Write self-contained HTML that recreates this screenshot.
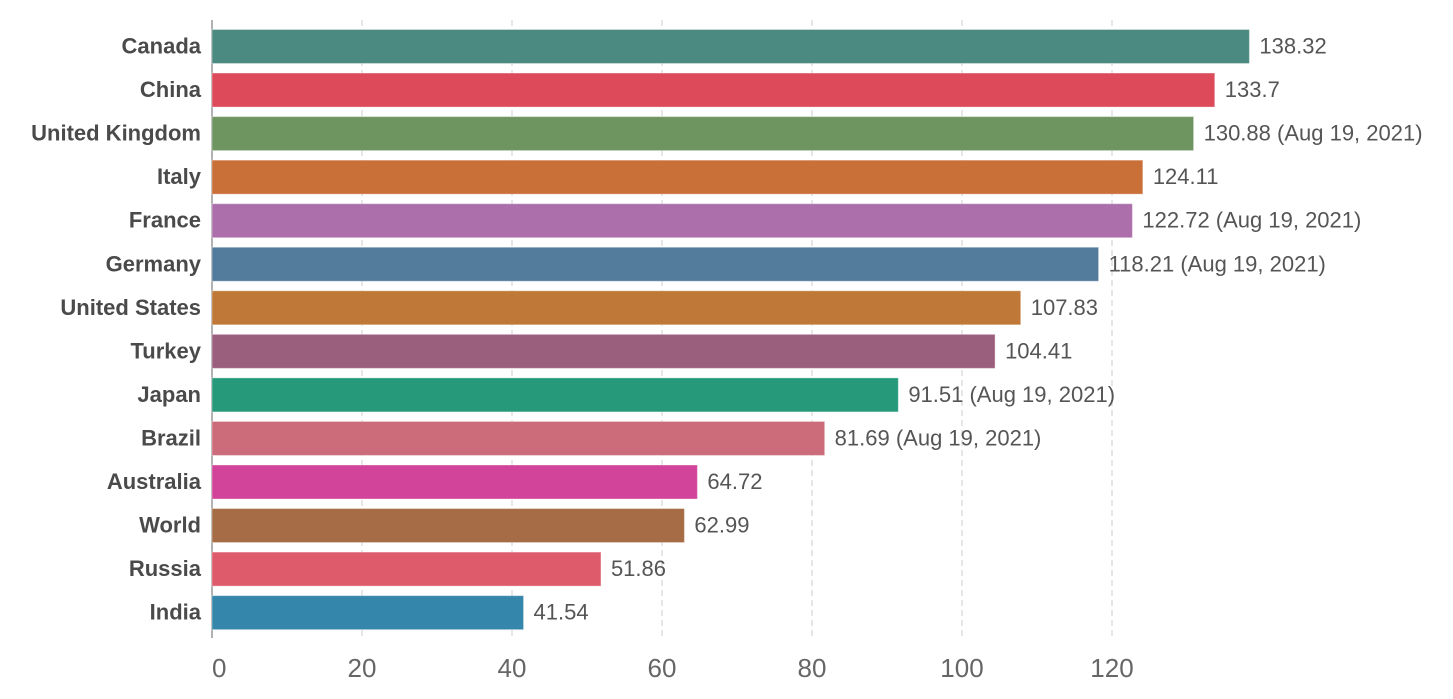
<!DOCTYPE html>
<html><head><meta charset="utf-8"><style>
body{margin:0;background:#fff;}
svg{display:block;font-family:"Liberation Sans",sans-serif;}
</style></head><body>
<svg id="chart" width="1453" height="699" viewBox="0 0 1453 699"></svg>
<script>
const categories=["Canada","China","United Kingdom","Italy","France","Germany","United States","Turkey","Japan","Brazil","Australia","World","Russia","India"];
const values=[138.32,133.7,130.88,124.11,122.72,118.21,107.83,104.41,91.51,81.69,64.72,62.99,51.86,41.54];
const valueLabels=["138.32","133.7","130.88 (Aug 19, 2021)","124.11","122.72 (Aug 19, 2021)","118.21 (Aug 19, 2021)","107.83","104.41","91.51 (Aug 19, 2021)","81.69 (Aug 19, 2021)","64.72","62.99","51.86","41.54"];
const colors=["#4a8a80","#dd4a5a","#6e9460","#c96f38","#ad6fab","#537b9b","#bf7837","#9b5f7e","#26997a","#cc6b7a","#d2449a","#a56c46","#dd5b6b","#3487aa"];
const ticks=[0,20,40,60,80,100,120];
const NS="http://www.w3.org/2000/svg";
const svg=document.getElementById('chart');
const x0=212,scale=7.5,top0=29.5,step=43.55,bh=34;
const x=v=>x0+v*scale;
const y=i=>top0+i*step;
function mk(t,a){const e=document.createElementNS(NS,t);for(const k in a)e.setAttribute(k,a[k]);svg.appendChild(e);return e;}
ticks.forEach((t,i)=>{
  if(t>0){const g=mk('line',{x1:x(t),x2:x(t),y1:20,y2:638,stroke:'#ddd','stroke-width':1.5,'stroke-dasharray':'6,4'});
  
  }
  const tx=mk('text',{x:t===0?x(t):x(t),y:677,'font-size':26,fill:'#666','text-anchor':t===0?'start':'middle'});
  tx.textContent=t;
  
  
});
const ax=mk('line',{x1:x0,x2:x0,y1:20,y2:638,stroke:'#999','stroke-width':1.5});


categories.forEach((c,i)=>{
  const r=mk('rect',{x:x0,y:y(i),width:values[i]*scale,height:bh,fill:colors[i],stroke:'rgba(255,255,255,0.35)','stroke-width':1});
  
  
  const l=mk('text',{x:201,y:y(i)+bh/2+7,'font-size':22,'font-weight':'bold',fill:'#4a4a4a','text-anchor':'end',textLength:0});
  l.removeAttribute('textLength');
  l.textContent=c;
  
  
  const v=mk('text',{x:x(values[i])+10,y:y(i)+bh/2+7,'font-size':22,fill:'#555'});
  v.textContent=valueLabels[i];
  
  
});
</script>
</body></html>
